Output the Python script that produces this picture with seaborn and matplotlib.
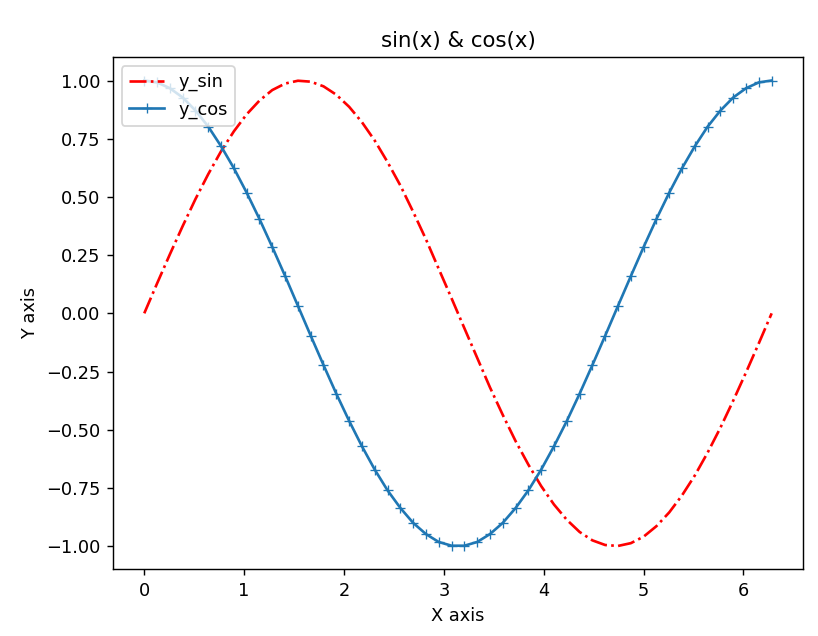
import matplotlib
matplotlib.use("Agg")
import matplotlib.pyplot as plt
import seaborn as sns

x = [0.000, 0.128, 0.256, 0.385, 0.513, 0.641, 0.769, 0.898, 1.026, 1.154,
     1.282, 1.411, 1.539, 1.667, 1.795, 1.923, 2.052, 2.180, 2.308, 2.436,
     2.565, 2.693, 2.821, 2.949, 3.078, 3.206, 3.334, 3.462, 3.590, 3.719,
     3.847, 3.975, 4.103, 4.232, 4.360, 4.488, 4.616, 4.744, 4.873, 5.001,
     5.129, 5.257, 5.385, 5.514, 5.642, 5.770, 5.898, 6.027, 6.155, 6.283]

y_sin = [0.000, 0.128, 0.253, 0.375, 0.491, 0.598, 0.696, 0.782, 0.855, 0.914,
         0.959, 0.987, 0.999, 0.995, 0.975, 0.939, 0.887, 0.821, 0.742, 0.650,
         0.549, 0.436, 0.318, 0.191, 0.064, -0.064, -0.191, -0.318, -0.436, -0.549,
         -0.650, -0.742, -0.821, -0.887, -0.939, -0.975, -0.995, -0.999, -0.987, -0.959,
         -0.914, -0.855, -0.782, -0.696, -0.598, -0.491, -0.375, -0.253, -0.128, -0.000]

y_cos = [1.000, 0.992, 0.967, 0.927, 0.871, 0.802, 0.718, 0.623, 0.518, 0.405,
         0.285, 0.160, 0.032, -0.096, -0.222, -0.345, -0.462, -0.571, -0.671, -0.760,
         -0.836, -0.900, -0.948, -0.982, -0.998, -0.998, -0.982, -0.948, -0.900, -0.836,
         -0.760, -0.671, -0.571, -0.462, -0.345, -0.222, -0.096, 0.032, 0.160, 0.285,
         0.405, 0.518, 0.623, 0.718, 0.802, 0.871, 0.927, 0.967, 0.992, 1.000]

DPI = 127.8
fig, ax = plt.subplots(figsize=(818 / DPI, 636 / DPI), dpi=DPI)
fig.subplots_adjust(left=0.138, right=0.9817, top=0.910, bottom=0.105)

sns.lineplot(x=x, y=y_sin, ax=ax, color="red", linestyle="-.", label="y_sin", sort=False)
sns.lineplot(x=x, y=y_cos, ax=ax, color="#1f77b4", marker="+", markersize=6,
             markeredgecolor="#1f77b4", label="y_cos", sort=False)

ax.set_title("sin(x) & cos(x)")
ax.set_xlabel("X axis")
ax.set_ylabel("Y axis")
ax.legend(loc="upper left")

fig.savefig("out.png", dpi=DPI)
